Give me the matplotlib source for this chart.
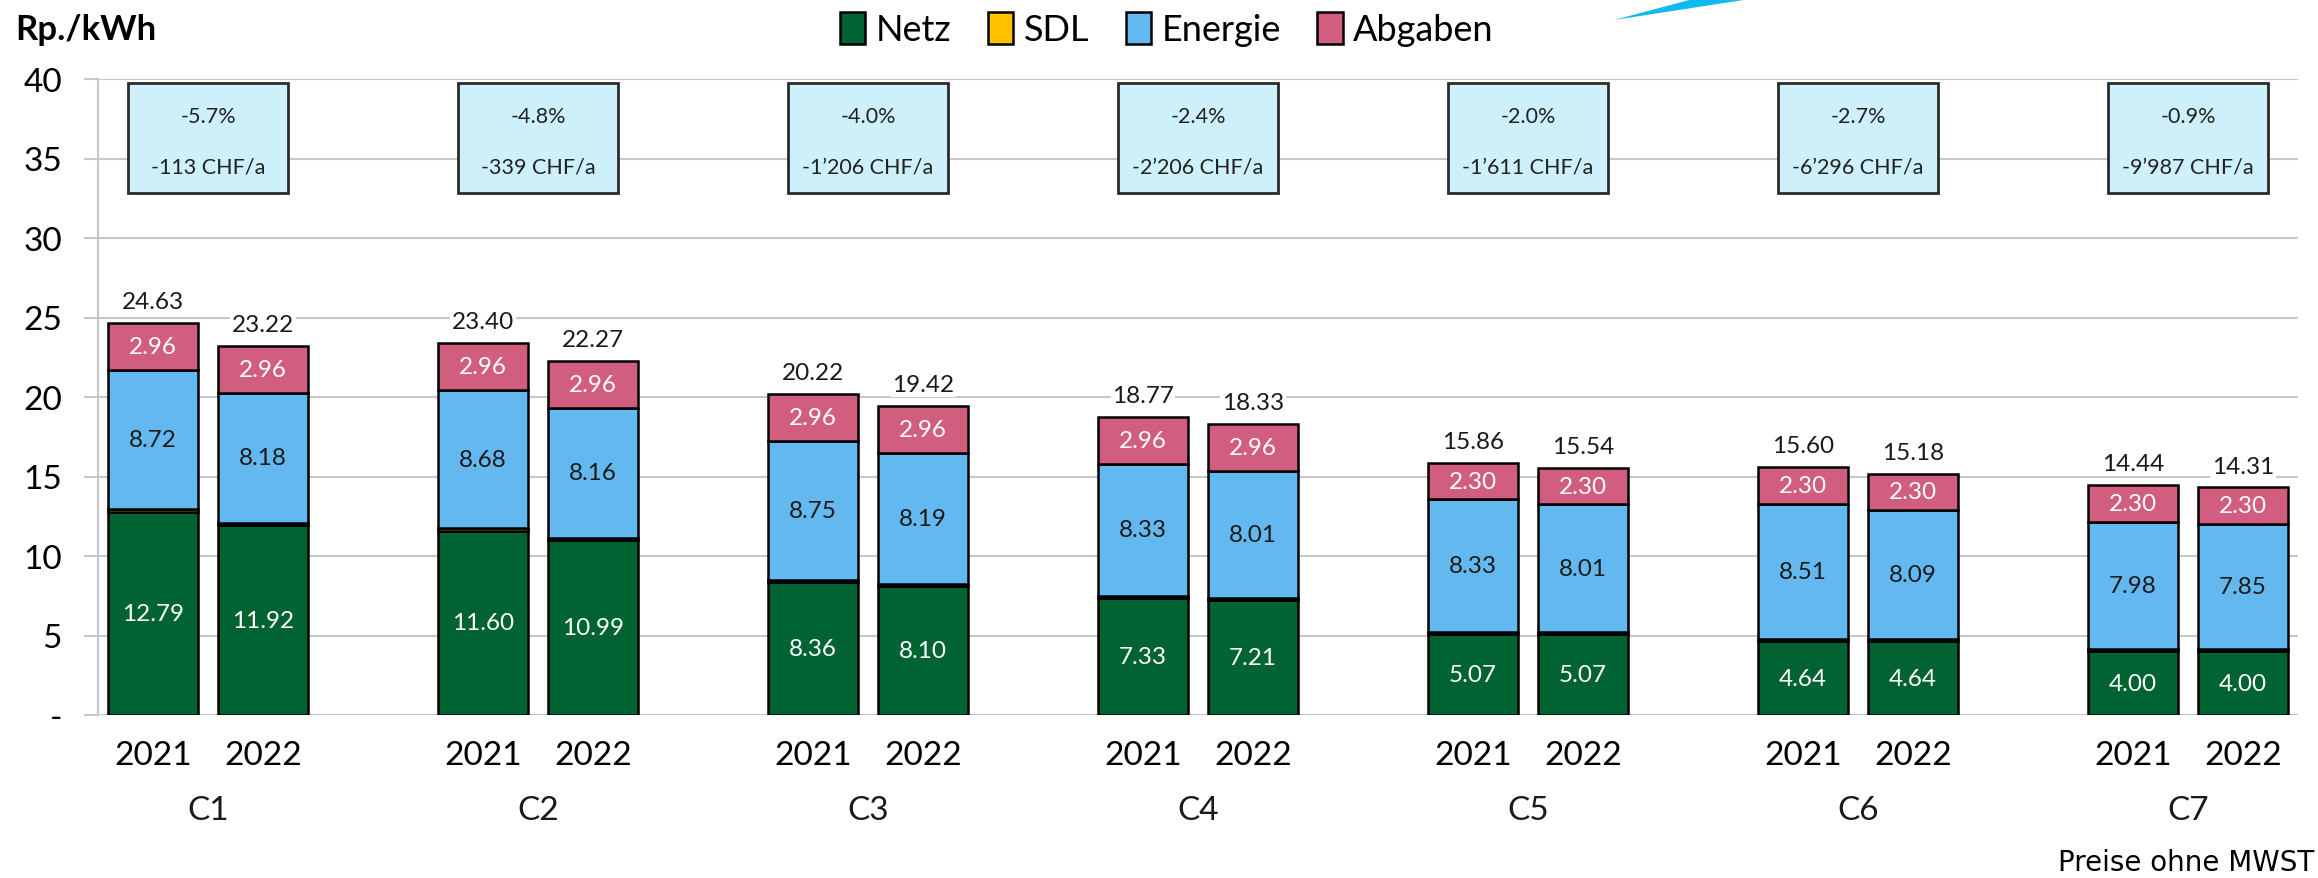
import matplotlib
matplotlib.use("Agg")
import matplotlib.pyplot as plt
from matplotlib.patches import Rectangle, Polygon
import numpy as np

plt.rcParams['font.family'] = ['Lato', 'DejaVu Sans']

# Data
groups = ['C1', 'C2', 'C3', 'C4', 'C5', 'C6', 'C7']
years = ['2021', '2022']
netz = [12.79, 11.92, 11.60, 10.99, 8.36, 8.10, 7.33, 7.21, 5.07, 5.07, 4.64, 4.64, 4.00, 4.00]
sdl = [0.16, 0.16, 0.16, 0.16, 0.15, 0.17, 0.15, 0.15, 0.16, 0.16, 0.15, 0.15, 0.16, 0.16]
energie = [8.72, 8.18, 8.68, 8.16, 8.75, 8.19, 8.33, 8.01, 8.33, 8.01, 8.51, 8.09, 7.98, 7.85]
abgaben = [2.96, 2.96, 2.96, 2.96, 2.96, 2.96, 2.96, 2.96, 2.30, 2.30, 2.30, 2.30, 2.30, 2.30]
totals = [24.63, 23.22, 23.40, 22.27, 20.22, 19.42, 18.77, 18.33, 15.86, 15.54, 15.60, 15.18, 14.44, 14.31]
change_pct = ['-5.7%', '-4.8%', '-4.0%', '-2.4%', '-2.0%', '-2.7%', '-0.9%']
change_chf = ['-113 CHF/a', '-339 CHF/a', '-1\u2019206 CHF/a', '-2\u2019206 CHF/a',
              '-1\u2019611 CHF/a', '-6\u2019296 CHF/a', '-9\u2019987 CHF/a']

c_netz = '#006331'
c_sdl = '#FFC000'
c_energie = '#63B9EF'
c_abgaben = '#D15E7E'

fig = plt.figure(figsize=(23.18, 8.79), dpi=100)
ax = fig.add_axes([98 / 2318, 1 - 716 / 879, 2200 / 2318, 636 / 879])

centers = np.arange(len(groups)) * 3.0
xpos = np.array([[c - 0.5, c + 0.5] for c in centers]).ravel()
w = 0.82

netz = np.array(netz)
sdl = np.array(sdl)
energie = np.array(energie)
abgaben = np.array(abgaben)

kw = dict(width=w, edgecolor='black', linewidth=1.8, zorder=3)
ax.bar(xpos, netz, color=c_netz, label='Netz', **kw)
ax.bar(xpos, sdl, bottom=netz, color=c_sdl, label='SDL', **kw)
ax.bar(xpos, energie, bottom=netz + sdl, color=c_energie, label='Energie', **kw)
ax.bar(xpos, abgaben, bottom=netz + sdl + energie, color=c_abgaben, label='Abgaben', **kw)

# value labels
for i, x in enumerate(xpos):
    ax.text(x, netz[i] / 2, f'{netz[i]:.2f}', ha='center', va='center',
            color='white', fontsize=17.5, zorder=4)
    ax.text(x, netz[i] + sdl[i] + energie[i] / 2, f'{energie[i]:.2f}', ha='center',
            va='center', color='#1a1a1a', fontsize=17.5, zorder=4)
    ax.text(x, netz[i] + sdl[i] + energie[i] + abgaben[i] / 2, f'{abgaben[i]:.2f}',
            ha='center', va='center', color='white', fontsize=17.5, zorder=4)
    ax.text(x, totals[i] + 1.35, f'{totals[i]:.2f}', ha='center', va='center',
            color='#1a1a1a', fontsize=17.5, zorder=4,
            bbox=dict(facecolor='white', edgecolor='none', pad=1))

# change boxes
for c, p, chf in zip(centers, change_pct, change_chf):
    ax.add_patch(Rectangle((c - 0.73, 32.8), 1.46, 6.95, facecolor='#CDF0FB',
                           edgecolor='#2b2b2b', linewidth=2, zorder=4))
    ax.text(c, 37.7, p, ha='center', va='center', fontsize=15.5, color='#222222', zorder=5)
    ax.text(c, 34.5, chf, ha='center', va='center', fontsize=15.5, color='#222222', zorder=5)

ax.set_xlim(-1.0, 19.0)
ax.set_ylim(0, 40)
ax.set_yticks(np.arange(0, 41, 5))
ax.set_yticklabels(['-'] + [str(v) for v in range(5, 41, 5)])
ax.set_xticks(xpos)
ax.set_xticklabels(years * len(groups))
ax.tick_params(axis='y', labelsize=24, length=10, color='#C8C8C8', width=1.5, pad=16)
ax.tick_params(axis='x', labelsize=24, length=0, pad=18)
ax.grid(axis='y', color='#C8C8C8', linewidth=1.5, zorder=0)
for s in ['top', 'right', 'bottom']:
    ax.spines[s].set_visible(False)
ax.spines['left'].set_color('#C8C8C8')
ax.spines['left'].set_linewidth(1.5)

for c, g in zip(centers, groups):
    ax.text(c, -6.0, g, ha='center', va='center', fontsize=24, color='#1a1a1a')

fig.text(15 / 2318, 1 - 30 / 879, 'Rp./kWh', fontsize=25, fontweight='bold',
         ha='left', va='center')
fig.text(2314 / 2318, 1 - 863 / 879, 'Preise ohne MWST', fontsize=20,
         family='DejaVu Sans', ha='right', va='center')

fig.legend(loc='center', bbox_to_anchor=(1167 / 2318, 1 - 30 / 879), ncol=4,
           frameon=False, fontsize=26, handlelength=0.7, handleheight=1.0,
           handletextpad=0.3, columnspacing=1.0, borderpad=0)

# blue swoosh from the page header
fig.patches.append(Polygon([(1614 / 2318, 1 - 21 / 879), (1693 / 2318, 1.0),
                            (1750 / 2318, 1.0)], closed=True, facecolor='#10B9EE',
                           edgecolor='none', transform=fig.transFigure))

fig.savefig('out.png', dpi=100)
